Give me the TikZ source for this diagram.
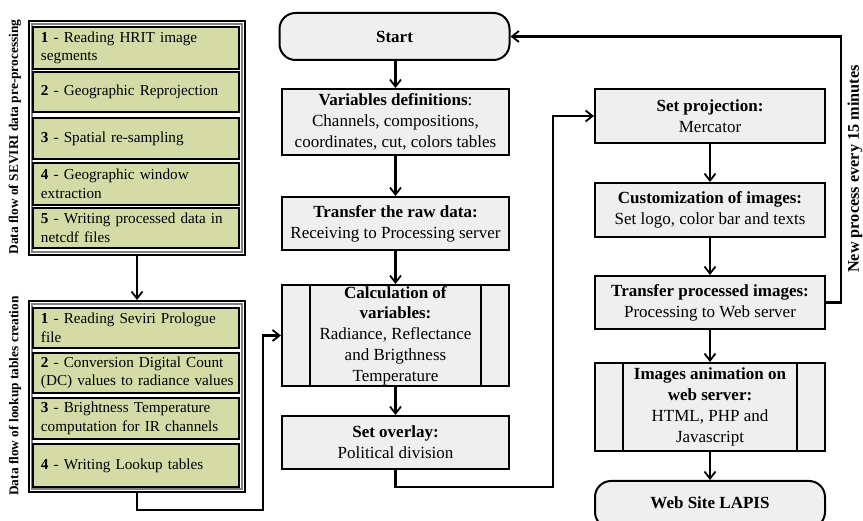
\documentclass[tikz,border=0pt]{standalone}
\usepackage{fontspec}
\setmainfont{Liberation Serif}
\usetikzlibrary{arrows.meta}
\definecolor{greenfill}{HTML}{D4DBA6}
\definecolor{grayfill}{HTML}{EFEFEF}
\newcommand\gline[1]{\hspace*{8pt}#1}
\begin{document}
\begin{tikzpicture}[x=1pt,y=-1pt,
  arr/.style={line width=2.2pt,-{Straight Barb[length=7pt,width=11pt,line width=1.8pt]}},
  outerbox/.style={draw,line width=2pt,fill=white,minimum width=216pt,inner sep=0pt,
    path picture={\draw[gray,line width=1.2pt] ([shift={(3pt,-3pt)}]path picture bounding box.north west) rectangle ([shift={(-3pt,3pt)}]path picture bounding box.south east);}},
  gbox/.style={draw,line width=2pt,fill=greenfill,minimum width=206pt,text width=206pt,align=left,inner sep=0pt,font=\fontsize{15.2}{18.5}\selectfont},
  pbox/.style={draw,line width=2pt,fill=grayfill,minimum width=227pt,align=center,inner sep=0pt,font=\fontsize{17}{20.8}\selectfont},
  rbox/.style={pbox,minimum width=230pt},
  term/.style={pbox,rounded corners=16pt},
  sub/.style={path picture={
      \draw[line width=1.6pt] ([xshift=28pt]path picture bounding box.north west) -- ([xshift=28pt]path picture bounding box.south west);
      \draw[line width=1.6pt] ([xshift=-28pt]path picture bounding box.north east) -- ([xshift=-28pt]path picture bounding box.south east);}},
  vlab/.style={rotate=90,font=\bfseries\fontsize{13.4}{15}\selectfont,inner sep=0pt}
]
\clip (0,0) rectangle (863,521);
\fill[white] (0,0) rectangle (863,521);

% left column
\node[outerbox,minimum height=234pt] (outer1) at (137,138) {};
\node[gbox,minimum height=42pt] (g1) at (136,48) {\gline{\textbf{1} - Reading HRIT image}\\\gline{segments}};
\node[gbox,minimum height=40pt] (g2) at (136,92) {\gline{\textbf{2} - Geographic Reprojection}};
\node[gbox,minimum height=41pt] (g3) at (136,138.5) {\gline{\textbf{3} - Spatial re-sampling}};
\node[gbox,minimum height=42pt] (g4) at (136,184) {\gline{\textbf{4} - Geographic window}\\\gline{extraction}};
\node[gbox,minimum height=40pt] (g5) at (136,228) {\gline{\textbf{5} - Writing processed data in}\\\gline{netcdf files}};
\node[vlab] (lab1) at (15,137) {Data flow of SEVIRI data pre-processing};

\node[outerbox,minimum height=191pt] (outer2) at (137,396.5) {};
\node[gbox,minimum height=40pt] (h1) at (136,328) {\gline{\textbf{1} - Reading Seviri Prologue}\\\gline{file}};
\node[gbox,minimum height=40pt] (h2) at (136,373) {\gline{\textbf{2} - Conversion Digital Count}\\\gline{(DC) values to radiance values}};
\node[gbox,minimum height=41pt] (h3) at (136,418.5) {\gline{\textbf{3} - Brightness Temperature}\\\gline{computation for IR channels}};
\node[gbox,minimum height=43pt] (h4) at (136,465.5) {\gline{\textbf{4} - Writing Lookup tables}};
\node[vlab] (lab2) at (15,396) {Data flow of lookup tables creation};

% center column
\node[term,minimum width=230pt,minimum height=47pt] (start) at (394.5,36.5) {\textbf{Start}};
\node[pbox,minimum height=66pt] (var) at (395.5,122) {\textbf{Variables definitions}:\\Channels, compositions,\\coordinates, cut, colors tables};
\node[pbox,minimum height=53pt] (raw) at (395.5,223.5) {\textbf{Transfer the raw data:}\\Receiving to Processing server};
\node[pbox,sub,minimum height=101pt] (calc) at (395.5,335.5) {\textbf{Calculation of}\\\textbf{variables:}\\Radiance, Reflectance\\and Brigthness\\Temperature};
\node[pbox,minimum height=53pt] (overlay) at (395.5,442.5) {\textbf{Set overlay:}\\Political division};

% right column
\node[rbox,minimum height=54pt] (proj) at (710,116) {\textbf{Set projection:}\\Mercator};
\node[rbox,minimum height=54pt] (cust) at (710,210) {\textbf{Customization of images:}\\Set logo, color bar and texts};
\node[rbox,minimum height=53pt] (tproc) at (710,302.5) {\textbf{Transfer processed images:}\\Processing to Web server};
\node[rbox,sub,minimum height=88pt] (anim) at (710,407) {\textbf{Images animation on}\\\textbf{web server:}\\HTML, PHP and\\Javascript};
\node[term,minimum width=230pt,minimum height=47pt] (web) at (710,504.5) {\raisebox{4pt}{\textbf{Web Site LAPIS}}};
\node[rotate=90,font=\bfseries\fontsize{16.3}{18}\selectfont,inner sep=0pt] (lab3) at (855,169) {New process every 15 minutes};

% connectors
\coordinate (c1) at (553,487);
\coordinate (c2) at (841,36.5);
\coordinate (c3) at (263,510);

\draw[arr] (outer1.south) -- (outer2.north);
\draw[arr] (outer2.south) |- (c3) |- (calc.west);
\draw[arr] (start.south -| var.north) -- (var.north);
\draw[arr] (var) -- (raw);
\draw[arr] (raw) -- (calc);
\draw[arr] (calc) -- (overlay);
\draw[arr] (overlay.south) |- (c1) |- (proj.west);
\draw[arr] (proj) -- (cust);
\draw[arr] (cust) -- (tproc);
\draw[arr] (tproc) -- (anim);
\draw[arr] (anim.south) -- (web.north);
\draw[arr] (tproc.east) -| (c2) -- (start.east);
\end{tikzpicture}
\end{document}
